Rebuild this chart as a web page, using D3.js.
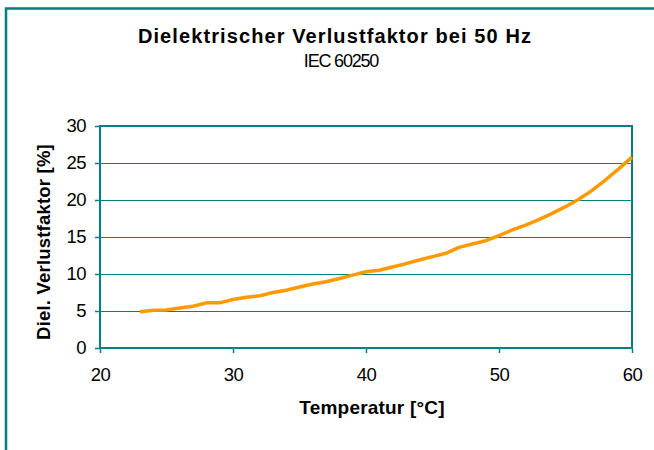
<!DOCTYPE html>
<html>
<head>
<meta charset="utf-8">
<script src="https://cdn.jsdelivr.net/npm/d3@7"></script>
<style>
  body { margin: 0; background: #fff; }
  svg { display: block; font-family: "Liberation Sans", Arial, sans-serif; }
</style>
</head>
<body>
<div id="chart"></div>
<script>
// Dielektrischer Verlustfaktor vs. Temperatur
const temperatures = [23, 24, 25, 26, 27, 28, 29, 30, 31, 32, 33, 34, 35, 36, 37, 38, 39, 40,
  41, 42, 43, 44, 45, 46, 47, 48, 49, 50, 51, 52, 53, 54, 55, 56, 57, 58, 59, 60];
const lossFactor = [4.9, 5.1, 5.15, 5.4, 5.65, 6.1, 6.1, 6.55, 6.85, 7.05, 7.5, 7.8, 8.25, 8.65, 8.95, 9.4, 9.85, 10.3,
  10.5, 10.95, 11.4, 11.9, 12.35, 12.8, 13.6, 14.05, 14.5, 15.2, 15.95, 16.6, 17.35, 18.2, 19.1, 20.1, 21.3, 22.7, 24.2, 25.8];
const xTicks = [20, 30, 40, 50, 60];
const yTicks = [0, 5, 10, 15, 20, 25, 30];

const teal = '#008080';
const orange = '#ff9900';

const W = 654, H = 450;
const margin = { top: 126, right: 22, bottom: 102, left: 100 };
const width = W - margin.left - margin.right;
const height = H - margin.top - margin.bottom;

const svg = d3.select('#chart').append('svg')
  .attr('width', W)
  .attr('height', H);

// outer frame
svg.append('rect')
  .attr('x', 6).attr('y', 8.5)
  .attr('width', 700).attr('height', 500)
  .attr('fill', 'none')
  .attr('stroke', teal)
  .attr('stroke-width', 2.5);

svg.append('text')
  .attr('x', 335).attr('y', 43)
  .attr('text-anchor', 'middle')
  .attr('font-size', 20)
  .attr('font-weight', 'bold')
  .attr('letter-spacing', 1.1)
  .text('Dielektrischer Verlustfaktor bei 50 Hz');

svg.append('text')
  .attr('x', 341).attr('y', 67)
  .attr('text-anchor', 'middle')
  .attr('font-size', 18)
  .attr('letter-spacing', -1.2)
  .text('IEC 60250');

const g = svg.append('g')
  .attr('transform', `translate(${margin.left},${margin.top})`);

const x = d3.scaleLinear().domain([20, 60]).range([0, width]);
const y = d3.scaleLinear().domain([0, 30]).range([height, 0]);

// grid
g.selectAll('.grid')
  .data(yTicks.filter(d => d > 0 && d < 30))
  .enter().append('line')
  .attr('class', 'grid')
  .attr('x1', 0).attr('x2', width)
  .attr('y1', d => Math.round(y(d)) + 0.5)
  .attr('y2', d => Math.round(y(d)) + 0.5)
  .attr('stroke', teal)
  .attr('stroke-width', 1.2);

// plot frame
g.append('rect')
  .attr('x', 0).attr('y', 0)
  .attr('width', width).attr('height', height)
  .attr('fill', 'none')
  .attr('stroke', teal)
  .attr('stroke-width', 2);

const yAxis = g.append('g')
  .call(d3.axisLeft(y).tickValues(yTicks).tickSize(5).tickPadding(9));
const xAxis = g.append('g')
  .attr('transform', `translate(0,${height})`)
  .call(d3.axisBottom(x).tickValues(xTicks).tickSize(5).tickPadding(15));

[xAxis, yAxis].forEach(a => {
  a.select('.domain').remove();
  a.selectAll('.tick line').attr('stroke', teal).attr('stroke-width', 1.5);
  a.selectAll('.tick text')
    .attr('font-size', 18.5)
    .attr('fill', '#000')
    .attr('font-family', '"Liberation Sans", Arial, sans-serif')
    .attr('letter-spacing', -0.6);
});

// curve
const line = d3.line()
  .x((d, i) => x(temperatures[i]))
  .y(d => y(d))
  .curve(d3.curveLinear);

g.append('path')
  .datum(lossFactor)
  .attr('d', line)
  .attr('fill', 'none')
  .attr('stroke', orange)
  .attr('stroke-width', 3.5)
  .attr('stroke-linejoin', 'round');

// axis titles
svg.append('text')
  .attr('x', 372).attr('y', 414)
  .attr('text-anchor', 'middle')
  .attr('font-size', 19)
  .attr('font-weight', 'bold')
  .attr('letter-spacing', 0.2)
  .text('Temperatur [°C]');

svg.append('text')
  .attr('transform', 'translate(49.5,242) rotate(-90)')
  .attr('text-anchor', 'middle')
  .attr('font-size', 18.5)
  .attr('font-weight', 'bold')
  .attr('letter-spacing', 0.2)
  .text('Diel. Verlustfaktor [%]');
</script>
</body>
</html>
